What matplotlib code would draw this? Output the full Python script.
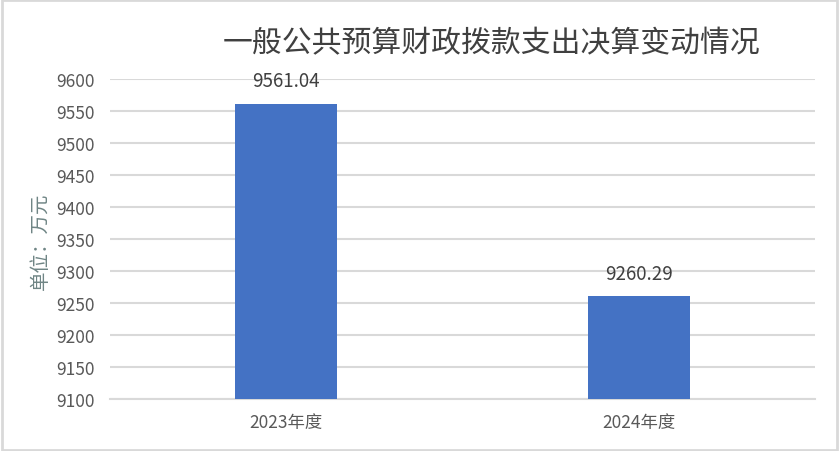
import matplotlib.pyplot as plt
import matplotlib.patches as patches

plt.rcParams['font.family'] = ['Noto Sans CJK SC', 'DejaVu Sans']

years = ['2023年度', '2024年度']
amounts = [9561.04, 9260.29]
yticks = [9100, 9150, 9200, 9250, 9300, 9350, 9400, 9450, 9500, 9550, 9600]

W, H = 839, 452
fig = plt.figure(figsize=(W / 100, H / 100), dpi=100)
ax = fig.add_axes([110 / W, 1 - 400 / H, 705 / W, 320 / H])

x = range(len(years))
bars = ax.bar(x, amounts, width=0.29, color='#4472C4', zorder=3)
ax.set_xlim(-0.5, 1.5)
ax.set_ylim(9100, 9600)
ax.set_yticks(yticks)
ax.set_xticks(list(x))
ax.set_xticklabels(years)
ax.grid(axis='y', color='#D9D9D9', linewidth=1.5, zorder=0)
for s in ['top', 'left', 'right']:
    ax.spines[s].set_visible(False)
ax.spines['bottom'].set_color('#D9D9D9')
ax.spines['bottom'].set_linewidth(1.5)
ax.tick_params(axis='both', length=0, labelsize=12.5, colors='#595959')
ax.tick_params(axis='y', pad=11)
ax.tick_params(axis='x', pad=10)

for b, v in zip(bars, amounts):
    ax.annotate(f'{v:.2f}', (b.get_x() + b.get_width() / 2, v),
                xytext=(0, 9), textcoords='offset points',
                ha='center', va='bottom', fontsize=13.5, color='#404040')

fig.text(492 / W, 1 - 44 / H, '一般公共预算财政拨款支出决算变动情况',
         ha='center', va='center', fontsize=21.5, color='#404040')
fig.text(40 / W, 1 - 241 / H, '单位：万元', rotation=90,
         ha='center', va='center', fontsize=14, color='#6F8585')

fig.patches.append(patches.Rectangle((0.002, 0.003), 0.996, 0.994,
                                     transform=fig.transFigure, fill=False,
                                     edgecolor='#D9D9D9', linewidth=2))

fig.savefig('out.png', dpi=100)
